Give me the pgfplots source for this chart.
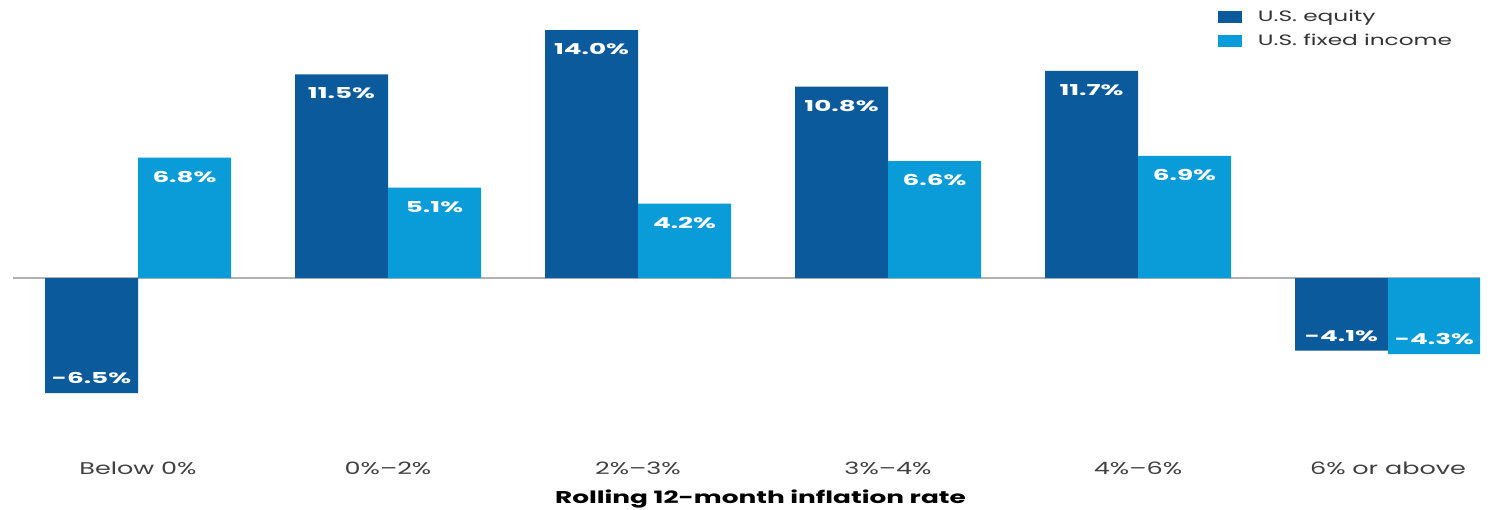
\documentclass[border=0pt]{standalone}
\usepackage{graphicx}
\usepackage{pgfplots}
\pgfplotsset{compat=1.18}
\usepackage{pgfplotstable}
\usepackage{fontspec}
\setmainfont{Poppins}
\definecolor{eq}{HTML}{0B5B9C}
\definecolor{fi}{HTML}{0A9BD9}
\pgfplotstableread{
x y
0 -6.5
1 11.5
2 14.0
3 10.8
4 11.7
5 -4.1
}\equity
\pgfplotstableread{
x y
0 6.8
1 5.1
2 4.2
3 6.6
4 6.9
5 -4.3
}\fixed
\newcommand{\wide}[2]{\scalebox{#1}[1]{#2}}
\begin{document}
\begin{tikzpicture}
\useasboundingbox (-6.5pt,-34.5pt) rectangle (742.5pt,220pt);
\begin{axis}[
  scale only axis, width=733.5pt, height=220pt,
  at={(0,0)}, anchor=south west,
  xmin=-0.5, xmax=5.368, ymin=-9.147, ymax=15.697,
  axis line style={draw=none}, tick style={draw=none},
  ytick=\empty,
  xtick={0,...,5},
  xticklabels={\wide{1.5}{Below 0\%},\wide{1.5}{0\%--2\%},\wide{1.5}{2\%--3\%},\wide{1.5}{3\%--4\%},\wide{1.5}{4\%--6\%},\wide{1.5}{6\% or above}},
  xticklabel style={anchor=base, yshift=-13pt, font=\fontsize{8.5}{10}\selectfont, text=black!75},
  xlabel={\wide{1.55}{Rolling 12-month inflation rate}},
  xlabel style={at={(axis description cs:0.5,0)}, anchor=base, yshift=-31.5pt, xshift=7pt, font=\fontsize{8.5}{10}\selectfont\bfseries},
  extra y ticks={0}, extra y tick labels={},
  extra y tick style={grid=major, major grid style={black!30, line width=0.6pt}},
  ybar=0pt, bar width=46.5pt,
  nodes near coords={\wide{1.75}{\pgfmathprintnumber[fixed, fixed zerofill, precision=1, assume math mode=true]{\pgfplotspointmeta}\%}},
  nodes near coords align={center},
  visualization depends on={rawy \as \rawy},
  every node near coord/.append style={font=\fontsize{7.5}{9}\selectfont\bfseries, text=white, anchor=center, yshift={ifthenelse(\rawy>0,-9.5,7.5)*1pt}},
  legend style={at={(0.817,0.997)}, anchor=north west, draw=none, fill=none, font=\fontsize{7.5}{9}\selectfont, text=black!80, row sep=1pt, cells={anchor=west}},
  legend image code/.code={\fill (0pt,-3pt) rectangle (12pt,3pt); \path (18pt,0pt);},
  legend cell align=left,
]
\addplot[fill=eq, draw=none, bar shift=-23.25pt] table[x=x,y=y] {\equity};
\addplot[fill=fi, draw=none, bar shift=23.25pt] table[x=x,y=y] {\fixed};
\legend{\wide{1.55}{U.S. equity}, \wide{1.55}{U.S. fixed income}}
\end{axis}
\end{tikzpicture}
\end{document}
